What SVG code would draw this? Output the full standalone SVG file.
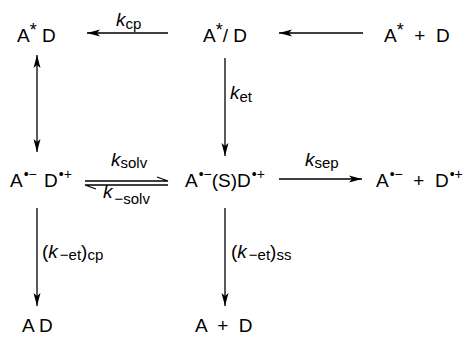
<svg xmlns="http://www.w3.org/2000/svg" width="464" height="337" viewBox="0 0 464 337">
<style>
text{font-family:"Liberation Sans",Arial,sans-serif;fill:#000}
.sp{font-size:19px}
.k{font-size:19px}
.i{font-style:italic}
.sub{font-size:15px}
.sup{font-size:14px}
.ast{font-size:18px}
.c line,.c path{stroke:#000;stroke-width:1.3;fill:none}
</style>
<defs>
<marker id="ah" markerUnits="userSpaceOnUse" markerWidth="14" markerHeight="10" refX="13" refY="5" orient="auto">
<path d="M0,1.5 L13,5 L0,8.5 L3,5 Z" fill="#000"/>
</marker>
<marker id="ahs" markerUnits="userSpaceOnUse" markerWidth="14" markerHeight="10" refX="13" refY="5" orient="auto-start-reverse">
<path d="M0,1.5 L13,5 L0,8.5 L3,5 Z" fill="#000"/>
</marker>
</defs>
<g id="n_AsD"><text class="sp" x="17" y="42">A<tspan class="ast" dy="-6">*</tspan><tspan dy="6"> D</tspan></text></g>
<g id="n_AsSlashD"><text class="sp" x="203" y="42">A<tspan class="ast" dy="-6">*</tspan><tspan dy="6">/ D</tspan></text></g>
<g id="n_AsPlusD"><text class="sp" x="384" y="42" xml:space="preserve">A<tspan class="ast" dy="-6">*</tspan><tspan dy="6">  +  D</tspan></text></g>
<g id="n_AD_cp"><text class="sp" x="10" y="187">A<tspan class="sup" dy="-8" dx="1">•−</tspan><tspan dy="8" dx="2"> D</tspan><tspan class="sup" dy="-8" dx="1">•+</tspan></text></g>
<g id="n_ASD"><text class="sp" x="185" y="187">A<tspan class="sup" dy="-8" dx="1">•−</tspan><tspan dy="8">(S)D</tspan><tspan class="sup" dy="-8" dx="1">•+</tspan></text></g>
<g id="n_AplusD_ion"><text class="sp" x="376" y="187" xml:space="preserve">A<tspan class="sup" dy="-8" dx="1">•−</tspan><tspan dy="8">  +  D</tspan><tspan class="sup" dy="-8" dx="1">•+</tspan></text></g>
<g id="n_AD"><text class="sp" x="22" y="332">A D</text></g>
<g id="n_AplusD"><text class="sp" x="195" y="332" xml:space="preserve">A  +  D</text></g>
<g id="connectors" class="c">
<line x1="168" y1="33" x2="87" y2="33" marker-end="url(#ah)"/>
<line x1="363" y1="33" x2="279" y2="33" marker-end="url(#ah)"/>
<line x1="37" y1="55" x2="37" y2="152" marker-start="url(#ahs)" marker-end="url(#ahs)"/>
<line x1="225" y1="58" x2="225" y2="156" marker-end="url(#ah)"/>
<path d="M85,181 H168 L157,177"/>
<path d="M168,185 H85 L96,189"/>
<line x1="279" y1="179" x2="362" y2="179" marker-end="url(#ah)"/>
<line x1="37" y1="208" x2="37" y2="306" marker-end="url(#ah)"/>
<line x1="225" y1="208" x2="225" y2="306" marker-end="url(#ah)"/>
</g>
<g id="labels">
<text class="k" x="116" y="26"><tspan class="i">k</tspan><tspan class="sub" dy="3">cp</tspan></text>
<text class="k" x="230" y="99"><tspan class="i">k</tspan><tspan class="sub" dy="3">et</tspan></text>
<text class="k" x="111" y="166"><tspan class="i">k</tspan><tspan class="sub" dy="2">solv</tspan></text>
<text class="k" x="103" y="198"><tspan class="i">k</tspan><tspan class="sub" dy="6" dx="2">−solv</tspan></text>
<text class="k" x="305" y="166"><tspan class="i">k</tspan><tspan class="sub" dy="2">sep</tspan></text>
<text class="k" x="42" y="258">(<tspan class="i">k</tspan><tspan class="sub" dy="2" dx="2">−et</tspan><tspan dy="-2">)</tspan><tspan class="sub" dy="2">cp</tspan></text>
<text class="k" x="231" y="258">(<tspan class="i">k</tspan><tspan class="sub" dy="2" dx="2">−et</tspan><tspan dy="-2">)</tspan><tspan class="sub" dy="2">ss</tspan></text>
</g>
</svg>
